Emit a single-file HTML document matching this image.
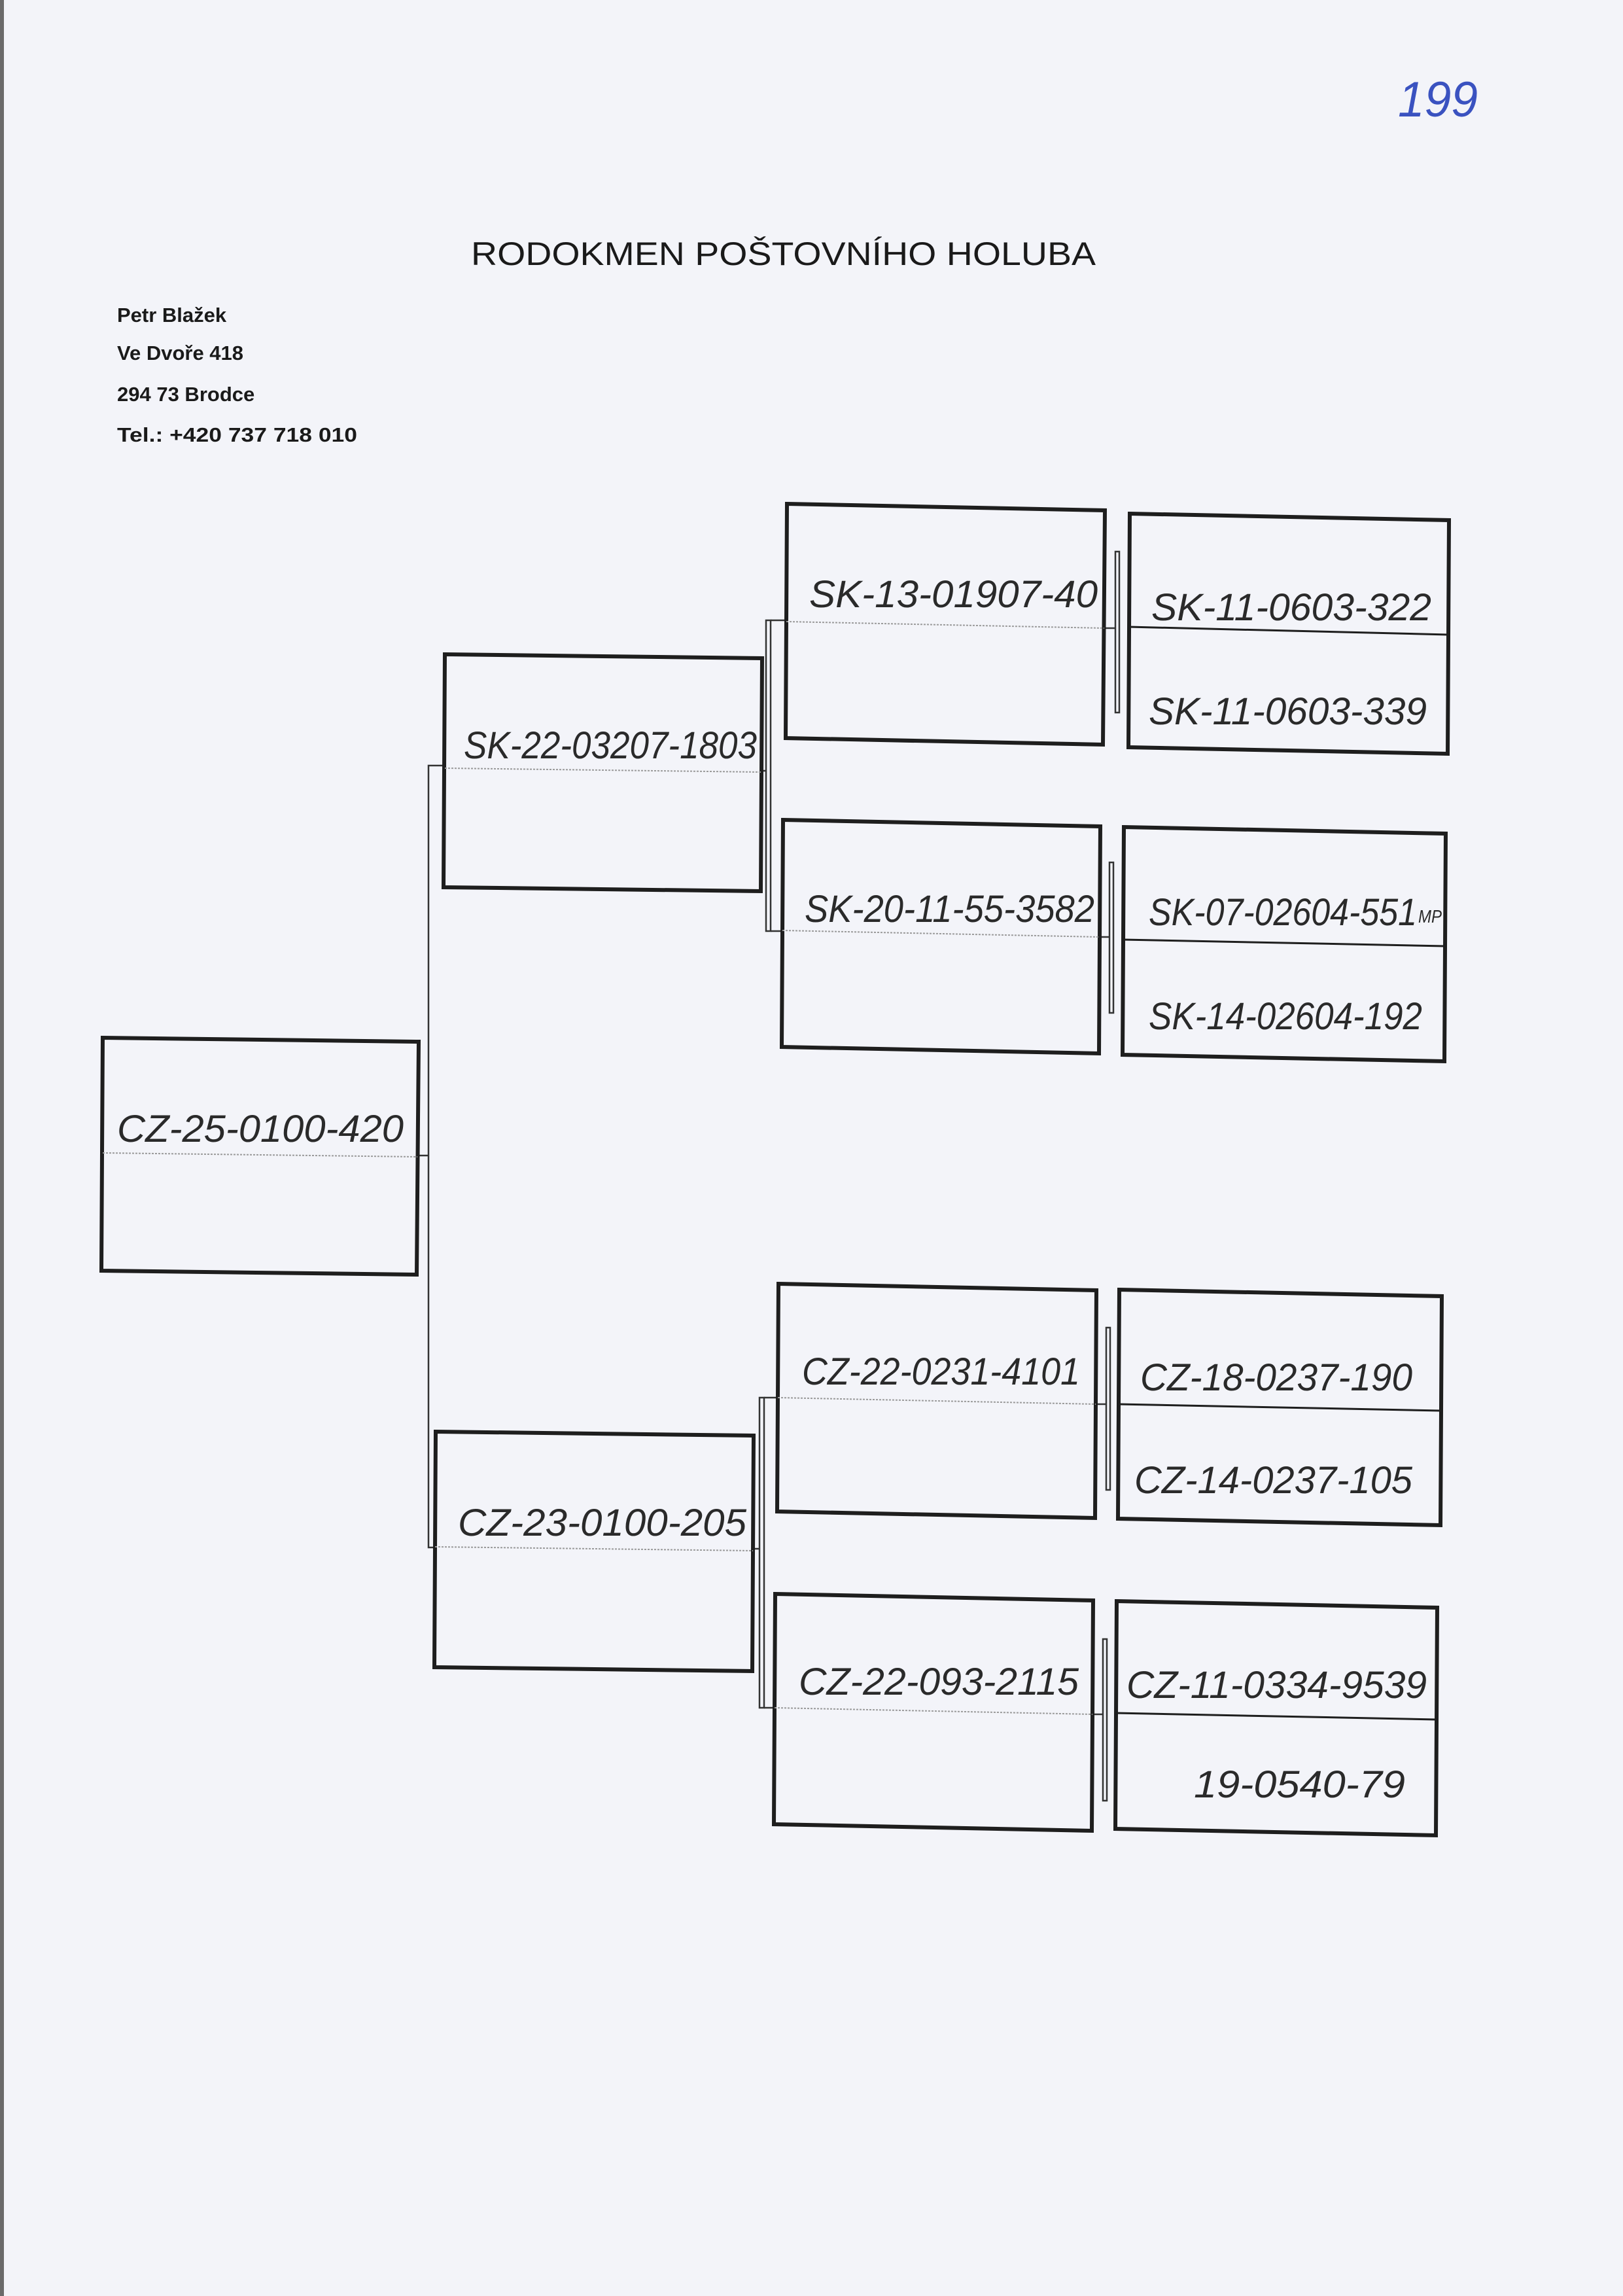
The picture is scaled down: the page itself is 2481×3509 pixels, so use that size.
<!DOCTYPE html>
<html><head><meta charset="utf-8"><style>
html,body{margin:0;padding:0;background:#f3f4f9;}
svg{display:block}
.h{font-family:"Liberation Sans Narrow","Liberation Sans",sans-serif;font-style:italic;font-size:58px;fill:#2a2a2a;}
</style></head><body>
<svg width="2481" height="3509" viewBox="0 0 2481 3509" xmlns="http://www.w3.org/2000/svg">
<rect width="2481" height="3509" fill="#f3f4f9"/>
<rect x="0" y="0" width="6" height="3509" fill="#6a6a6a"/>
<text x="2137" y="178" font-family="Liberation Sans" font-style="italic" font-size="76" fill="#3a52c0" textLength="122" lengthAdjust="spacingAndGlyphs">199</text>
<text x="720" y="405" font-family="Liberation Sans" font-size="50" fill="#1a1a1a" textLength="955" lengthAdjust="spacingAndGlyphs">RODOKMEN POŠTOVNÍHO HOLUBA</text>
<g font-family="Liberation Sans" font-weight="bold" font-size="31" fill="#1a1a1a">
<text x="179" y="492">Petr Blažek</text>
<text x="179" y="550">Ve Dvoře 418</text>
<text x="179" y="613">294 73 Brodce</text>
<text x="179" y="675" textLength="367" lengthAdjust="spacingAndGlyphs">Tel.: +420 737 718 010</text>
</g>
<!-- connectors -->
<g stroke="#333" stroke-width="2.5" fill="none">
<path d="M640 1766 H655 V1170 H680 M655 1766 V2365 H664"/>
<rect x="1171" y="948" width="7" height="475"/>
<path d="M1165 1178 H1171 M1178 948 H1201 M1178 1423 H1195"/>
<rect x="1161" y="2136" width="7" height="474"/>
<path d="M1152 2367 H1161 M1168 2136 H1188 M1168 2610 H1183"/>
<rect x="1705" y="843" width="6" height="246"/><path d="M1689 960 H1705"/>
<rect x="1696" y="1318" width="6" height="230"/><path d="M1682 1432 H1696"/>
<rect x="1691" y="2029" width="6" height="248"/><path d="M1676 2146 H1691"/>
<rect x="1686" y="2505" width="6" height="247"/><path d="M1671 2620 H1686"/>
</g>
<!-- boxes -->
<g fill="none" stroke="#1e1e1e" stroke-width="6" stroke-linejoin="miter">
<polygon points="157,1586 640,1592 637,1948 155,1942"/>
<polygon points="680,1000 1165,1006 1163,1362 678,1356"/>
<polygon points="666,2188 1152,2194 1150,2554 664,2548"/>
<polygon points="1203,770 1689,780 1686,1138 1201,1128"/>
<polygon points="1197,1253 1682,1263 1680,1610 1195,1600"/>
<polygon points="1190,1962 1676,1972 1674,2320 1188,2310"/>
<polygon points="1185,2436 1671,2446 1669,2798 1183,2788"/>
<polygon points="1727,785 2215,795 2213,1152 1725,1142"/>
<polygon points="1718,1264 2210,1274 2208,1622 1716,1612"/>
<polygon points="1711,1971 2204,1981 2202,2331 1709,2321"/>
<polygon points="1707,2447 2197,2457 2195,2805 1705,2795"/>
</g>
<g stroke="#1e1e1e" stroke-width="3">
<line x1="1725" y1="958" x2="2214" y2="970"/>
<line x1="1716" y1="1436" x2="2209" y2="1446"/>
<line x1="1709" y1="2146" x2="2203" y2="2156"/>
<line x1="1705" y1="2618" x2="2196" y2="2628"/>
</g>
<g stroke="#9a9a9a" stroke-width="2" stroke-dasharray="3 2">
<line x1="157" y1="1762" x2="638" y2="1768"/>
<line x1="680" y1="1174" x2="1164" y2="1180"/>
<line x1="665" y1="2364" x2="1151" y2="2370"/>
<line x1="1202" y1="950" x2="1688" y2="960"/>
<line x1="1196" y1="1422" x2="1681" y2="1432"/>
<line x1="1189" y1="2136" x2="1675" y2="2146"/>
<line x1="1184" y1="2610" x2="1670" y2="2620"/>
</g>
<g class="h">
<text x="179" y="1745" textLength="438" lengthAdjust="spacingAndGlyphs">CZ-25-0100-420</text>
<text x="709" y="1159" textLength="448" lengthAdjust="spacingAndGlyphs">SK-22-03207-1803</text>
<text x="700" y="2347" textLength="441" lengthAdjust="spacingAndGlyphs">CZ-23-0100-205</text>
<text x="1237" y="928" textLength="441" lengthAdjust="spacingAndGlyphs">SK-13-01907-40</text>
<text x="1230" y="1409" textLength="443" lengthAdjust="spacingAndGlyphs">SK-20-11-55-3582</text>
<text x="1226" y="2116" textLength="425" lengthAdjust="spacingAndGlyphs">CZ-22-0231-4101</text>
<text x="1221" y="2590" textLength="428" lengthAdjust="spacingAndGlyphs">CZ-22-093-2115</text>
<text x="1760" y="948" textLength="428" lengthAdjust="spacingAndGlyphs">SK-11-0603-322</text>
<text x="1756" y="1107" textLength="425" lengthAdjust="spacingAndGlyphs">SK-11-0603-339</text>
<text x="1756" y="1414" textLength="410" lengthAdjust="spacingAndGlyphs">SK-07-02604-551</text>
<text x="2168" y="1410" font-size="28" textLength="36" lengthAdjust="spacingAndGlyphs">MP</text>
<text x="1756" y="1573" textLength="418" lengthAdjust="spacingAndGlyphs">SK-14-02604-192</text>
<text x="1743" y="2125" textLength="416" lengthAdjust="spacingAndGlyphs">CZ-18-0237-190</text>
<text x="1734" y="2282" textLength="425" lengthAdjust="spacingAndGlyphs">CZ-14-0237-105</text>
<text x="1722" y="2595" textLength="459" lengthAdjust="spacingAndGlyphs">CZ-11-0334-9539</text>
<text x="1825" y="2747" textLength="323" lengthAdjust="spacingAndGlyphs">19-0540-79</text>
</g>
</svg>
</body></html>
